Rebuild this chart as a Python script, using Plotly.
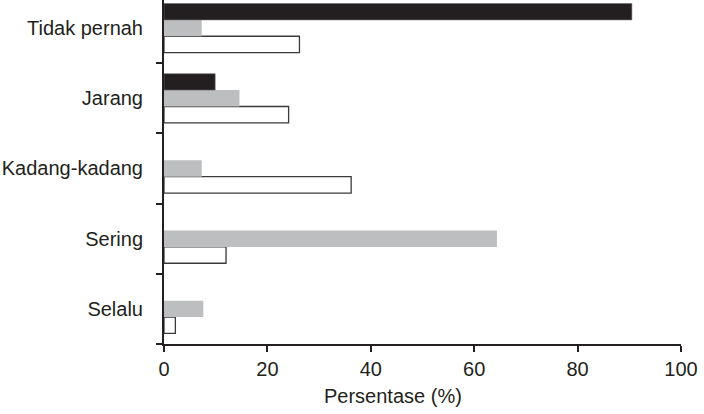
import plotly.graph_objects as go

categories = ["Selalu", "Sering", "Kadang-kadang", "Jarang", "Tidak pernah"]
white_vals = [2.2, 12.0, 36.2, 24.1, 26.2]
gray_vals = [7.6, 64.4, 7.3, 14.6, 7.3]
black_vals = [None, None, None, 9.9, 90.5]
x_ticks = [0, 20, 40, 60, 80, 100]

fig = go.Figure()
fig.add_trace(go.Bar(y=categories, x=white_vals, orientation="h",
                     marker=dict(color="white", line=dict(color="#3a3a3a", width=1.3))))
fig.add_trace(go.Bar(y=categories, x=gray_vals, orientation="h",
                     marker=dict(color="#bcbec0", line=dict(color="#bcbec0", width=0))))
fig.add_trace(go.Bar(y=categories, x=black_vals, orientation="h",
                     marker=dict(color="#231f20", line=dict(color="#6d6d6d", width=0.6))))

font = dict(family="Liberation Sans, Arial, sans-serif", size=20, color="#231f20")

fig.update_layout(
    width=704, height=414,
    margin=dict(l=164, r=23, t=0, b=70),
    barmode="group", bargap=0.3, bargroupgap=0,
    showlegend=False,
    plot_bgcolor="white", paper_bgcolor="white",
    font=font,
    xaxis=dict(range=[0, 100], tickvals=x_ticks, ticks="outside", ticklen=6, tickwidth=2,
               tickcolor="#231f20", showline=True, linecolor="#231f20", linewidth=2,
               showgrid=False, zeroline=False, tickfont=font, ticklabelstandoff=0),
    yaxis=dict(type="category", categoryorder="array", categoryarray=categories,
               range=[-0.5, 4.4], tickson="boundaries", ticks="outside", ticklen=6,
               tickwidth=2, tickcolor="#231f20", showline=True, linecolor="#231f20",
               linewidth=2, showgrid=False, zeroline=False, tickfont=font,
               ticklabelstandoff=15),
    annotations=[dict(text="Persentase (%)", x=0.443, y=0, xref="paper", yref="paper",
                      yshift=-52, yanchor="middle", xanchor="center", showarrow=False,
                      font=font)],
)

fig.write_html("out.html")
